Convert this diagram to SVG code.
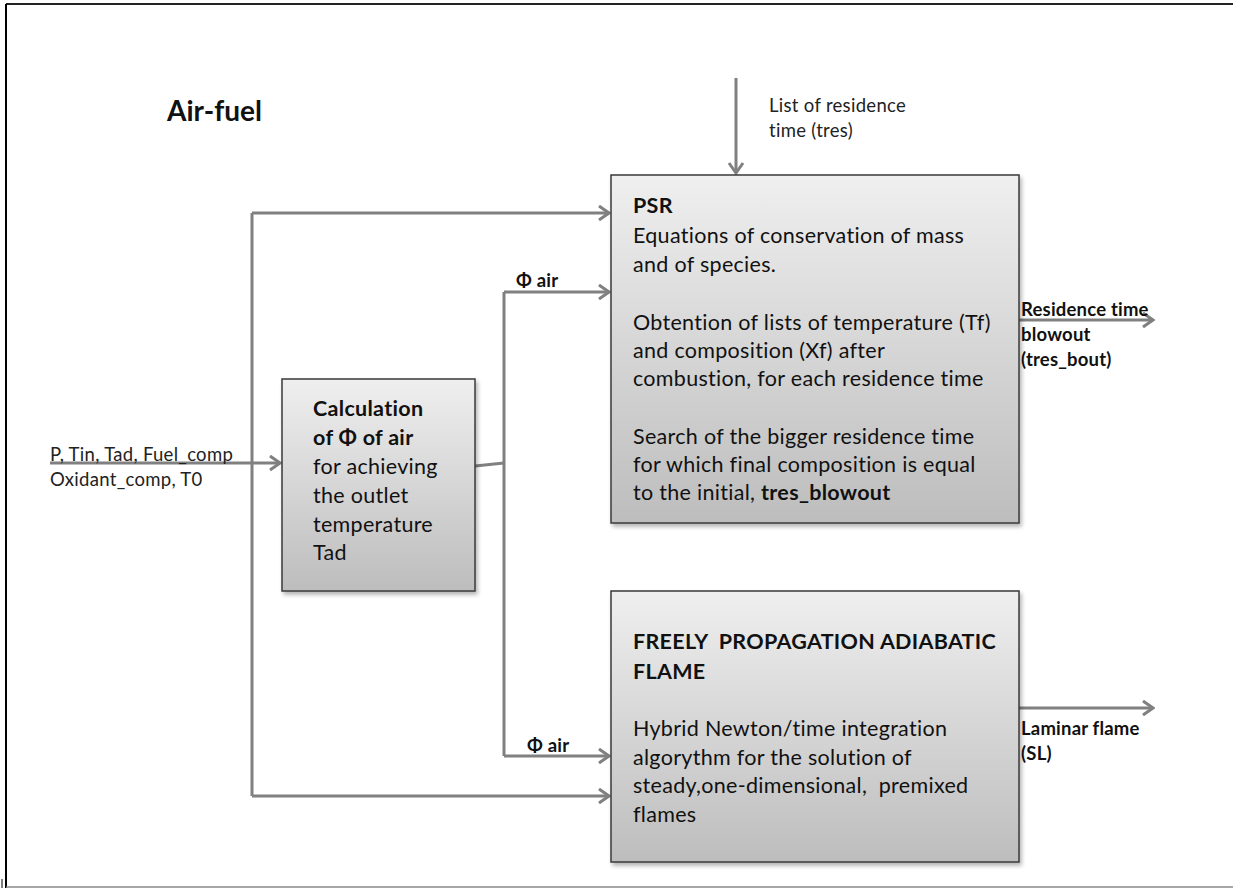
<svg xmlns="http://www.w3.org/2000/svg" width="1233" height="888" viewBox="0 0 1233 888">
<style>
  .box { stroke: #3a3a3a; stroke-width: 1.5; fill: url(#g); filter: url(#sh); }
  .t { font-family: Lato, "Open Sans", sans-serif; font-size: 21.5px; letter-spacing: 0.3px; fill: #111; }
  .b { font-weight: bold; }
  .s { font-family: Lato, "Open Sans", sans-serif; font-size: 18.5px; letter-spacing: 0.3px; fill: #222; }
  .sb { font-family: Lato, "Open Sans", sans-serif; font-size: 18.5px; letter-spacing: 0.2px; font-weight: bold; fill: #111; }
  .c { fill: none; stroke: #808080; stroke-width: 3; }
  .a { marker-end: url(#arr); }
</style>
<defs>
  <linearGradient id="g" x1="0" y1="0" x2="0" y2="1">
    <stop offset="0" stop-color="#efefef"/>
    <stop offset="1" stop-color="#bdbdbd"/>
  </linearGradient>
  <filter id="sh" x="-5%" y="-5%" width="115%" height="115%">
    <feGaussianBlur in="SourceAlpha" stdDeviation="2"/>
    <feOffset dx="2" dy="3" result="o"/>
    <feComponentTransfer><feFuncA type="linear" slope="0.3"/></feComponentTransfer>
    <feMerge><feMergeNode/><feMergeNode in="SourceGraphic"/></feMerge>
  </filter>
  <marker id="arr" markerWidth="14" markerHeight="18" refX="12" refY="9" orient="auto" markerUnits="userSpaceOnUse">
    <path d="M2,2 L12,9 L2,16" fill="none" stroke="#808080" stroke-width="3"/>
  </marker>
</defs>
<rect width="1233" height="888" fill="#fff"/>
<g id="frame">
  <line x1="6" y1="4" x2="1233" y2="4" stroke="#222" stroke-width="2"/>
  <line x1="6" y1="4" x2="6" y2="888" stroke="#000" stroke-width="2"/>
  <line x1="6" y1="887" x2="1233" y2="887" stroke="#888" stroke-width="1.5"/>
  <line x1="2" y1="879" x2="2" y2="888" stroke="#000" stroke-width="1"/>
</g>
<text x="167" y="121" font-family="Lato, 'Open Sans', sans-serif" font-size="28" font-weight="bold" fill="#111">Air-fuel</text>
<g id="connectors">
  <path class="c a" d="M736,78 V173"/>
  <path class="c a" d="M50,463 H280"/>
  <path class="c" d="M252,213 V796"/>
  <path class="c a" d="M252,213 H609"/>
  <path class="c a" d="M252,796 H609"/>
  <path class="c" d="M475,466 L504,463"/>
  <path class="c" d="M504,292 V756"/>
  <path class="c a" d="M504,292 H609"/>
  <path class="c a" d="M504,756 H609"/>
  <path class="c a" d="M1019,320 H1153"/>
  <path class="c a" d="M1019,708 H1153"/>
</g>
<g id="labels">
  <text class="s" x="769" y="112">List of residence</text>
  <text class="s" x="769" y="137">time (tres)</text>
  <text class="s" x="50" y="461">P, Tin, Tad, Fuel_comp</text>
  <text class="s" x="50" y="486">Oxidant_comp, T0</text>
  <text class="sb" x="516" y="287">Φ air</text>
  <text class="sb" x="527" y="752">Φ air</text>
  <text class="sb" x="1021" y="316">Residence time</text>
  <text class="sb" x="1021" y="341">blowout</text>
  <text class="sb" x="1021" y="366">(tres_bout)</text>
  <text class="sb" x="1021" y="735">Laminar flame</text>
  <text class="sb" x="1021" y="760">(SL)</text>
</g>
<g id="psr">
  <rect class="box" x="611" y="175" width="408" height="348"/>
  <text class="t b" x="633" y="213">PSR</text>
  <text class="t" x="633" y="243">Equations of conservation of mass</text>
  <text class="t" x="633" y="272">and of species.</text>
  <text class="t" x="633" y="330">Obtention of lists of temperature (Tf)</text>
  <text class="t" x="633" y="358">and composition (Xf) after</text>
  <text class="t" x="633" y="386">combustion, for each residence time</text>
  <text class="t" x="633" y="444">Search of the bigger residence time</text>
  <text class="t" x="633" y="472">for which final composition is equal</text>
  <text class="t" x="633" y="500">to the initial, <tspan class="b">tres_blowout</tspan></text>
</g>
<g id="calc">
  <rect class="box" x="282" y="379" width="193" height="212"/>
  <text class="t b" x="313" y="416">Calculation</text>
  <text class="t b" x="313" y="445">of Φ of air</text>
  <text class="t" x="313" y="474">for achieving</text>
  <text class="t" x="313" y="503">the outlet</text>
  <text class="t" x="313" y="532">temperature</text>
  <text class="t" x="313" y="560">Tad</text>
</g>
<g id="flame">
  <rect class="box" x="611" y="591" width="408" height="271"/>
  <text class="t b" x="633" y="649" xml:space="preserve">FREELY  PROPAGATION ADIABATIC</text>
  <text class="t b" x="633" y="679">FLAME</text>
  <text class="t" x="633" y="736">Hybrid Newton/time integration</text>
  <text class="t" x="633" y="765">algorythm for the solution of</text>
  <text class="t" x="633" y="793" xml:space="preserve">steady,one-dimensional,  premixed</text>
  <text class="t" x="633" y="822">flames</text>
</g>
</svg>
